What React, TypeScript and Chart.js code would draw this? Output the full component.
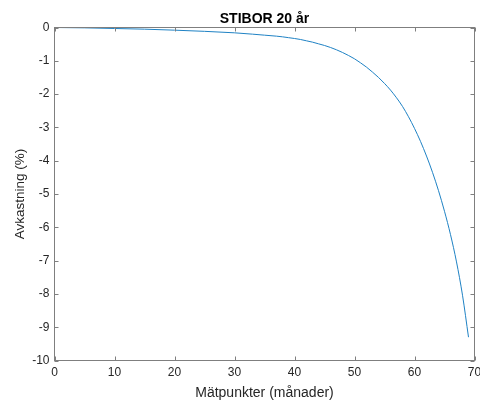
import React, { useEffect, useRef } from "react";
import { Chart, registerables } from "chart.js";

Chart.register(...registerables);

const titleText = "STIBOR 20 år";
const xTitle = "Mätpunkter (månader)";
const yTitle = "Avkastning (%)";

const months = [0, 5, 10, 15, 20, 25, 30, 33, 35, 37, 38, 39, 40, 41, 42, 43, 44, 45, 46, 47, 48, 49, 50, 51, 52, 53, 54, 55, 56, 57, 58, 59, 60, 61, 62, 63, 64, 65, 66, 67, 68, 69];
const returns = [0, -0.01, -0.03, -0.05, -0.08, -0.115, -0.16, -0.2, -0.23, -0.26, -0.28, -0.305, -0.33, -0.36, -0.4, -0.44, -0.49, -0.54, -0.6, -0.67, -0.75, -0.84, -0.94, -1.06, -1.19, -1.34, -1.5, -1.68, -1.88, -2.11, -2.37, -2.68, -3.03, -3.42, -3.86, -4.35, -4.9, -5.52, -6.22, -7.04, -8.04, -9.3];

const xMin = 0;
const xMax = 70;
const xStep = 10;
const yMin = -10;
const yMax = 0;
const yStep = 1;

const FONT = "'Liberation Sans', Arial, Helvetica, sans-serif";
const AXIS_COLOR = "#7f7f7f";
const TEXT_COLOR = "#262626";

const boxPlugin = {
  id: "matlabBox",
  afterDraw(chart: any) {
    const { ctx, chartArea } = chart;
    const { left, right, top, bottom } = chartArea;
    const xs = chart.scales.x;
    const ys = chart.scales.y;
    ctx.save();
    ctx.strokeStyle = AXIS_COLOR;
    ctx.lineWidth = 1;
    ctx.strokeRect(left, top, right - left, bottom - top);
    const tl = 4;
    ctx.beginPath();
    for (let v = xMin; v <= xMax; v += xStep) {
      const px = Math.round(xs.getPixelForValue(v)) + 0.5;
      ctx.moveTo(px, bottom);
      ctx.lineTo(px, bottom - tl);
      ctx.moveTo(px, top);
      ctx.lineTo(px, top + tl);
    }
    for (let v = yMin; v <= yMax; v += yStep) {
      const py = Math.round(ys.getPixelForValue(v)) + 0.5;
      ctx.moveTo(left, py);
      ctx.lineTo(left + tl, py);
      ctx.moveTo(right, py);
      ctx.lineTo(right - tl, py);
    }
    ctx.stroke();
    ctx.fillStyle = "#000";
    ctx.font = `bold 14px ${FONT}`;
    ctx.textAlign = "center";
    ctx.textBaseline = "alphabetic";
    ctx.fillText(titleText, (left + right) / 2, 23);
    ctx.restore();
  },
};

export default function App() {
  const ref = useRef<HTMLCanvasElement>(null);
  useEffect(() => {
    if (!ref.current) return;
    const chart = new Chart(ref.current, {
      type: "line",
      data: {
        datasets: [
          {
            data: months.map((m, i) => ({ x: m, y: returns[i] })),
            borderColor: "#1f82c4",
            borderWidth: 1,
            pointRadius: 0,
            tension: 0.3,
            cubicInterpolationMode: "monotone",
            fill: false,
          },
        ],
      },
      options: {
        animation: false,
        responsive: false,
        devicePixelRatio: 1,
        layout: { padding: { top: 27.5, right: 5.5, left: 0, bottom: 0 } },
        plugins: {
          legend: { display: false },
          tooltip: { enabled: false },
          title: { display: false },
        },
        scales: {
          x: {
            type: "linear",
            min: xMin,
            max: xMax,
            grid: { display: false, drawTicks: false },
            border: { display: false },
            ticks: {
              stepSize: xStep,
              padding: 5,
              color: TEXT_COLOR,
              font: { family: FONT, size: 12 },
              maxRotation: 0,
            },
            title: {
              display: true,
              text: xTitle,
              color: TEXT_COLOR,
              font: { family: FONT, size: 14 },
              padding: { top: 0, bottom: 0 },
            },
            afterFit: (s: any) => {
              s.height = 41.5;
              s.paddingLeft = 0;
              s.paddingRight = 0;
            },
          },
          y: {
            type: "linear",
            min: yMin,
            max: yMax,
            grid: { display: false, drawTicks: false },
            border: { display: false },
            ticks: {
              stepSize: yStep,
              padding: 5,
              color: TEXT_COLOR,
              font: { family: FONT, size: 12 },
            },
            title: {
              display: true,
              text: yTitle,
              color: TEXT_COLOR,
              font: { family: FONT, size: 13.5 },
              padding: { top: 12, bottom: 0 },
            },
            afterFit: (s: any) => {
              s.width = 54.5;
              s.paddingTop = 0;
              s.paddingBottom = 0;
            },
          },
        },
      },
      plugins: [boxPlugin],
    });
    return () => chart.destroy();
  }, []);
  return (
    <div style={{ position: "fixed", left: 0, top: 0, width: 480, height: 402, background: "#fff" }}>
      <canvas ref={ref} width={480} height={402} style={{ display: "block", width: 480, height: 402 }} />
    </div>
  );
}
